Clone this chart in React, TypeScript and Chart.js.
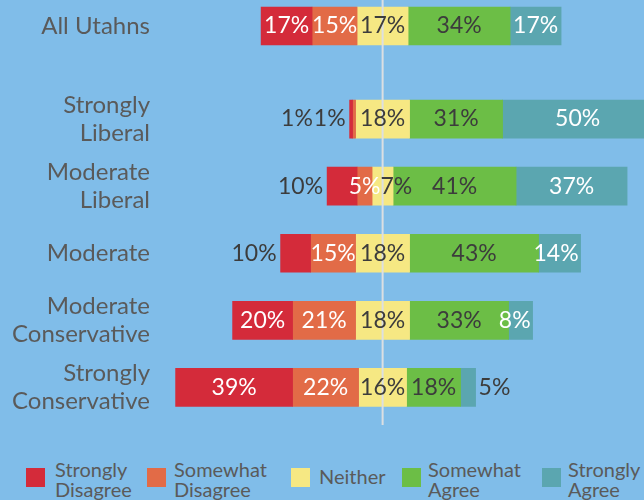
import React, { useEffect, useRef } from 'react';
import { Chart, registerables } from 'chart.js';

Chart.register(...registerables);

// ---- data ----
const categories: (string | string[])[] = [
  'All Utahns',
  ['Strongly', 'Liberal'],
  ['Moderate', 'Liberal'],
  'Moderate',
  ['Moderate', 'Conservative'],
  ['Strongly', 'Conservative'],
];
const seriesNames: string[][] = [
  ['Strongly', 'Disagree'],
  ['Somewhat', 'Disagree'],
  ['Neither'],
  ['Somewhat', 'Agree'],
  ['Strongly', 'Agree'],
];
const stronglyDisagree = [17, 1, 10, 10, 20, 39];
const somewhatDisagree = [15, 1, 5, 15, 21, 22];
const neither = [17, 18, 7, 18, 18, 16];
const somewhatAgree = [34, 31, 41, 43, 33, 18];
const stronglyAgree = [17, 50, 37, 14, 8, 5];

const series = [stronglyDisagree, somewhatDisagree, neither, somewhatAgree, stronglyAgree];

// ---- styles ----
const BG = '#80bde9';
const COLORS = ['#d42b3a', '#e26b47', '#f6e883', '#6cbe46', '#5ba6b0'];
const LABEL_COLORS = ['#ffffff', '#ffffff', '#3c3c3c', '#3c3c3c', '#ffffff'];
const DARK = '#3c3c3c';
const AXIS_TEXT = '#5a5a5a';
const FONT = 'Lato';
const X_MIN = -74.2;
const X_MAX = 87.13;

function rangesFor(r: number): [number, number][] {
  const h = neither[r] / 2;
  const sd = stronglyDisagree[r];
  const sw = somewhatDisagree[r];
  const sa = somewhatAgree[r];
  const st = stronglyAgree[r];
  return [
    [-(sd + sw + h), -(sw + h)],
    [-(sw + h), -h],
    [-h, h],
    [h, h + sa],
    [h + sa, h + sa + st],
  ];
}

function makeLabelPlugin(rows: number[]) {
  return {
    id: 'valueLabels',
    afterDatasetsDraw(chart: any) {
      const ctx = chart.ctx as CanvasRenderingContext2D;
      const x0 = chart.scales.x.getPixelForValue(0);
      ctx.save();
      ctx.strokeStyle = '#dcdfe2';
      ctx.lineWidth = 2;
      ctx.beginPath();
      ctx.moveTo(x0, 0);
      ctx.lineTo(x0, chart.height);
      ctx.stroke();

      ctx.font = `23px ${FONT}`;
      ctx.textBaseline = 'middle';
      rows.forEach((r, i) => {
        const geo = series.map((_, s) => {
          const el = chart.getDatasetMeta(s).data[i];
          const p = el.getProps(['x', 'base', 'y'], true);
          return { left: Math.min(p.x, p.base), right: Math.max(p.x, p.base), y: p.y };
        });
        const texts = series.map((arr) => `${arr[r]}%`);
        const widths = texts.map((t) => ctx.measureText(t).width);
        const outside = [false, false, false, false, false];
        // left side outside labels
        let cursor = geo[0].left - 4;
        ctx.textAlign = 'right';
        if (geo[1].right - geo[1].left < widths[1] * 0.3) {
          outside[1] = true;
          ctx.fillStyle = DARK;
          ctx.fillText(texts[1], cursor, geo[1].y);
          cursor -= widths[1] + 1;
        }
        if (geo[0].right - geo[0].left < widths[0]) {
          outside[0] = true;
          ctx.fillStyle = DARK;
          ctx.fillText(texts[0], cursor, geo[0].y);
        }
        // right side outside label
        ctx.textAlign = 'left';
        if (geo[4].right - geo[4].left < widths[4] * 0.6) {
          outside[4] = true;
          ctx.fillStyle = DARK;
          ctx.fillText(texts[4], geo[4].right + 3, geo[4].y);
        }
        // inside labels
        let prevRight = -Infinity;
        for (let s = 0; s < 5; s++) {
          if (outside[s]) continue;
          const g = geo[s];
          const segW = g.right - g.left;
          let left = (g.left + g.right) / 2 - widths[s] / 2;
          if (s === 4 && widths[s] > segW) left = g.right - 2 - widths[s];
          left = Math.max(left, prevRight);
          ctx.fillStyle = LABEL_COLORS[s];
          ctx.fillText(texts[s], left, g.y);
          prevRight = left + widths[s];
        }
      });
      ctx.restore();
    },
  };
}

function makeChart(canvas: HTMLCanvasElement, rows: number[], padTop: number, padBottom: number) {
  const datasets = series.map((_, s) => ({
    label: seriesNames[s].join(' '),
    data: rows.map((r) => rangesFor(r)[s]),
    backgroundColor: COLORS[s],
    borderWidth: 0,
    barThickness: 38,
    grouped: false,
  }));
  return new Chart(canvas, {
    type: 'bar',
    data: { labels: rows.map((r) => categories[r]), datasets: datasets as any },
    options: {
      indexAxis: 'y',
      animation: false,
      responsive: false,
      maintainAspectRatio: false,
      layout: { padding: { top: padTop, bottom: padBottom, left: 0, right: 0 } },
      plugins: { legend: { display: false }, tooltip: { enabled: false } },
      scales: {
        x: { type: 'linear', min: X_MIN, max: X_MAX, display: false },
        y: {
          type: 'category',
          grid: { display: false, drawTicks: false },
          border: { display: false },
          ticks: {
            color: AXIS_TEXT,
            font: { family: FONT, size: 24, lineHeight: 1.17 },
            padding: 10,
          },
          afterFit: (scale: any) => {
            scale.width = 160;
            scale.paddingTop = 0;
            scale.paddingBottom = 0;
          },
        },
      },
    } as any,
    plugins: [makeLabelPlugin(rows) as any],
  });
}

const legendSquareLeft = [26, 147, 291, 402, 542];
const legendTextLeft = [55, 174, 319, 428, 568];

export default function App() {
  const topRef = useRef<HTMLCanvasElement>(null);
  const groupRef = useRef<HTMLCanvasElement>(null);

  useEffect(() => {
    const a = makeChart(topRef.current!, [0], 0, 0);
    const b = makeChart(groupRef.current!, [1, 2, 3, 4, 5], 33.5, 4);
    return () => {
      a.destroy();
      b.destroy();
    };
  }, []);

  return (
    <div
      style={{
        position: 'fixed',
        left: 0,
        top: 0,
        width: 644,
        height: 500,
        background: BG,
        overflow: 'hidden',
        fontFamily: FONT,
      }}
    >
      <canvas ref={topRef} width={644} height={52} style={{ position: 'absolute', left: 0, top: 0 }} />
      <canvas ref={groupRef} width={644} height={373} style={{ position: 'absolute', left: 0, top: 52 }} />
      {seriesNames.map((name, s) => (
        <React.Fragment key={s}>
          <div
            style={{
              position: 'absolute',
              left: legendSquareLeft[s],
              top: 468,
              width: 19,
              height: 19,
              background: COLORS[s],
            }}
          />
          <div
            style={{
              position: 'absolute',
              left: legendTextLeft[s],
              top: name.length > 1 ? 458.7 : 466.3,
              fontSize: 20,
              lineHeight: '20.5px',
              color: AXIS_TEXT,
              whiteSpace: 'nowrap',
            }}
          >
            {name.map((line, k) => (
              <div key={k}>{line}</div>
            ))}
          </div>
        </React.Fragment>
      ))}
    </div>
  );
}
